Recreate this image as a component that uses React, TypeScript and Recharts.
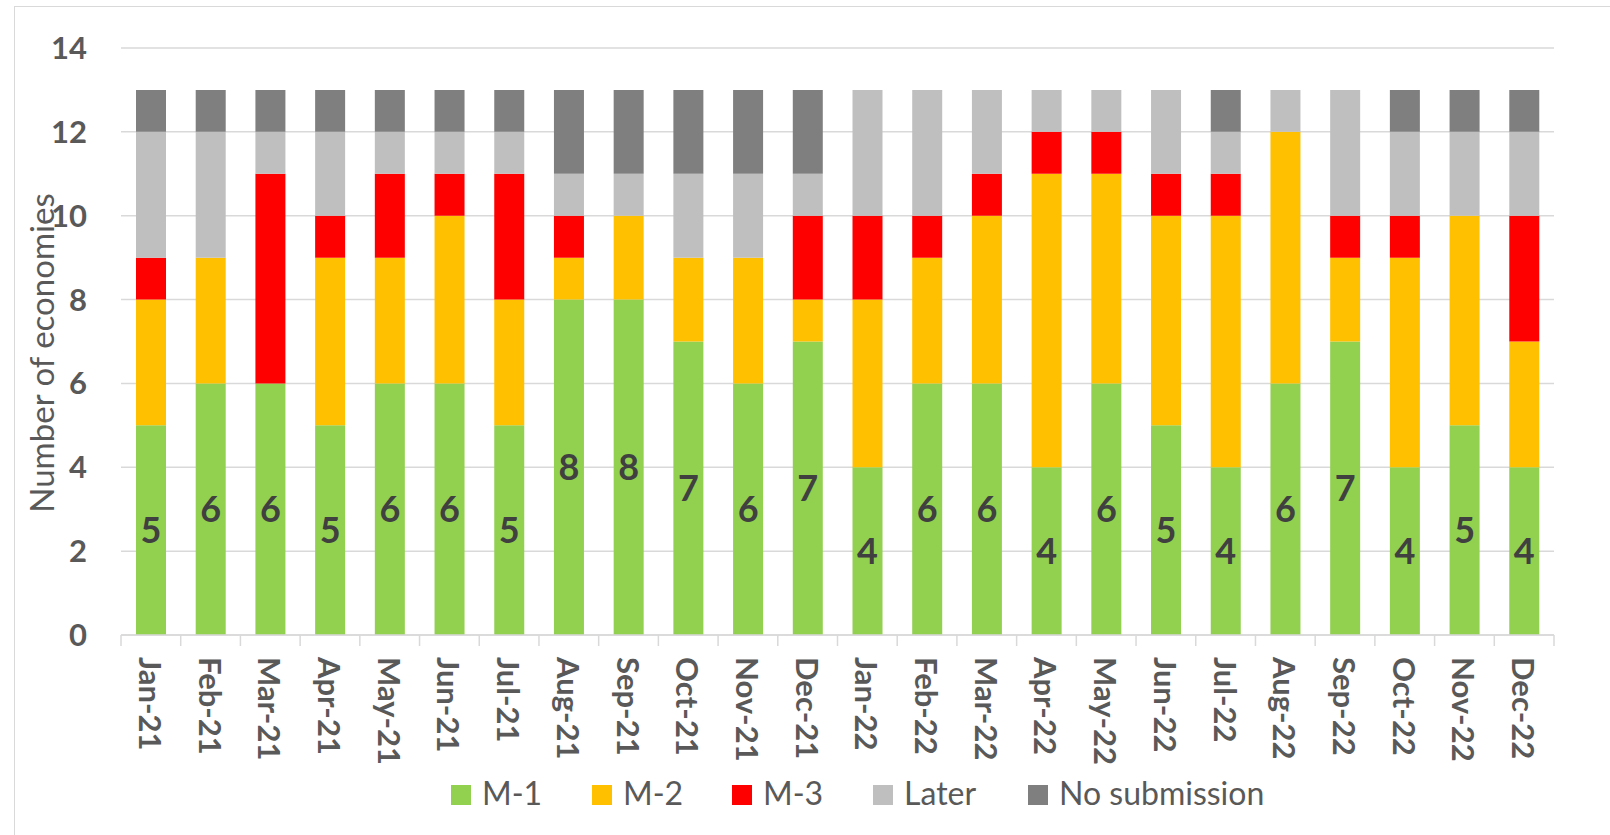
import { BarChart, Bar, XAxis, YAxis, CartesianGrid, LabelList } from 'recharts';

const months = [
  'Jan-21', 'Feb-21', 'Mar-21', 'Apr-21', 'May-21', 'Jun-21', 'Jul-21', 'Aug-21', 'Sep-21', 'Oct-21', 'Nov-21', 'Dec-21',
  'Jan-22', 'Feb-22', 'Mar-22', 'Apr-22', 'May-22', 'Jun-22', 'Jul-22', 'Aug-22', 'Sep-22', 'Oct-22', 'Nov-22', 'Dec-22',
];
const m1 = [5, 6, 6, 5, 6, 6, 5, 8, 8, 7, 6, 7, 4, 6, 6, 4, 6, 5, 4, 6, 7, 4, 5, 4];
const m2 = [3, 3, 0, 4, 3, 4, 3, 1, 2, 2, 3, 1, 4, 3, 4, 7, 5, 5, 6, 6, 2, 5, 5, 3];
const m3 = [1, 0, 5, 1, 2, 1, 3, 1, 0, 0, 0, 2, 2, 1, 1, 1, 1, 1, 1, 0, 1, 1, 0, 3];
const later = [3, 3, 1, 2, 1, 1, 1, 1, 1, 2, 2, 1, 3, 3, 2, 1, 1, 2, 1, 1, 3, 2, 2, 2];
const noSub = [1, 1, 1, 1, 1, 1, 1, 2, 2, 2, 2, 2, 0, 0, 0, 0, 0, 0, 1, 0, 0, 1, 1, 1];
const yTicks = [0, 2, 4, 6, 8, 10, 12, 14];

const SERIES = [
  { key: 'm1', name: 'M-1', color: '#92D050' },
  { key: 'm2', name: 'M-2', color: '#FFC000' },
  { key: 'm3', name: 'M-3', color: '#FF0000' },
  { key: 'later', name: 'Later', color: '#BFBFBF' },
  { key: 'noSub', name: 'No submission', color: '#7F7F7F' },
];

const data = months.map((month, i) => ({
  month,
  m1: m1[i],
  m2: m2[i],
  m3: m3[i],
  later: later[i],
  noSub: noSub[i],
}));

const FONT = 'Lato, "Open Sans", sans-serif';
const TEXT = '#595959';
const GRID = '#D9D9D9';

const W = 1610;
const H = 835;
const MARGIN = { top: 48, right: 56, left: 0, bottom: 0 };
const Y_AXIS_W = 121;
const PLOT_W = W - MARGIN.right - Y_AXIS_W;
const BAND = PLOT_W / months.length;

// Excel style: tick marks sit between categories, labels run top to bottom
const XTick = ({ x, y, payload, index }: any) => (
  <g>
    <line x1={x - BAND / 2} y1={y} x2={x - BAND / 2} y2={y + 11} stroke={GRID} strokeWidth={1.5} />
    {index === months.length - 1 && (
      <line x1={x + BAND / 2} y1={y} x2={x + BAND / 2} y2={y + 11} stroke={GRID} strokeWidth={1.5} />
    )}
    <text
      x={x}
      y={y + 22}
      transform={`rotate(90 ${x} ${y + 22})`}
      textAnchor="start"
      dominantBaseline="central"
      fontFamily={FONT}
      fontWeight={700}
      fontSize={31}
      fill={TEXT}
    >
      {payload.value}
    </text>
  </g>
);

const yLabel = () => (
  <text
    x={41}
    y={353}
    transform="rotate(-90 41 353)"
    textAnchor="middle"
    dominantBaseline="central"
    fontFamily={FONT}
    fontSize={33}
    fill={TEXT}
  >
    Number of economies
  </text>
);

const legendX = [451, 592, 732, 873, 1028];

function LegendRow() {
  return (
    <svg width={W} height={60} style={{ position: 'absolute', left: 0, top: 770 }}>
      {SERIES.map((s, i) => (
        <g key={s.key}>
          <rect x={legendX[i]} y={15} width={20} height={20} fill={s.color} />
          <text x={legendX[i] + 31} y={35} fontFamily={FONT} fontSize={32} fill={TEXT}>
            {s.name}
          </text>
        </g>
      ))}
    </svg>
  );
}

export default function App() {
  return (
    <div style={{ position: 'absolute', left: 0, top: 0, width: W, height: H, overflow: 'hidden', background: '#fff' }}>
      <div
        style={{
          position: 'absolute',
          left: 14,
          top: 6,
          width: W,
          height: H,
          border: `1.5px solid ${GRID}`,
        }}
      />
      <div style={{ position: 'absolute', left: 0, top: 0 }}>
        <BarChart width={W} height={H} data={data} margin={MARGIN} barSize={30}>
          <CartesianGrid vertical={false} stroke={GRID} strokeWidth={1.5} />
          <XAxis
            dataKey="month"
            height={H - 635}
            interval={0}
            axisLine={{ stroke: GRID, strokeWidth: 1.5 }}
            tickLine={false}
            tickSize={0}
            tickMargin={0}
            tick={<XTick />}
          />
          <YAxis
            width={Y_AXIS_W}
            domain={[0, 14]}
            ticks={yTicks}
            interval={0}
            axisLine={false}
            tickLine={false}
            tickSize={0}
            tickMargin={34}
            tick={{ fontFamily: FONT, fontWeight: 700, fontSize: 31, fill: TEXT }}
            label={yLabel}
          />
          {SERIES.map((s) => (
            <Bar key={s.key} dataKey={s.key} name={s.name} stackId="a" fill={s.color} isAnimationActive={false}>
              {s.key === 'm1' && (
                <LabelList
                  dataKey="m1"
                  position="center"
                  style={{ fontFamily: FONT, fontWeight: 700, fontSize: 36, fill: '#404040' }}
                />
              )}
            </Bar>
          ))}
        </BarChart>
      </div>
      <LegendRow />
    </div>
  );
}
